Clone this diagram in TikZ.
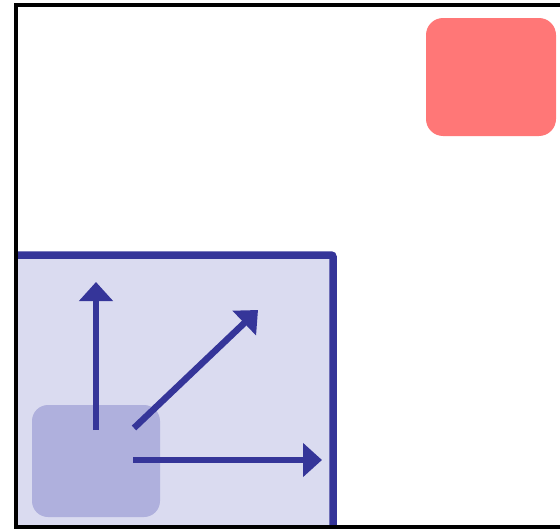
\documentclass[tikz,border=0pt]{standalone}
\usetikzlibrary{arrows.meta}
\definecolor{bluestroke}{RGB}{53,53,153}
\definecolor{bluelight}{RGB}{218,219,240}
\definecolor{bluemid}{RGB}{175,176,221}
\definecolor{redbox}{RGB}{255,119,119}
\begin{document}
\begin{tikzpicture}[x=1pt,y=-1pt,
  vec/.style={draw=bluestroke,line width=6.5pt,-{Triangle[length=19pt,width=33pt]}}
]
\useasboundingbox (0,0) rectangle (560,530);
% reachable region
\fill[bluelight] (16,255) rectangle (333,527);
\draw[bluestroke,line width=7.5pt,rounded corners=2pt] (16,255) -- (333,255) -- (333,527);
% source and goal boxes
\node[fill=bluemid,rounded corners=16pt,inner sep=0pt,minimum width=128pt,minimum height=112pt] (src) at (96,461) {};
\node[fill=redbox,rounded corners=17pt,inner sep=0pt,minimum width=130pt,minimum height=118pt] (goal) at (491,77) {};
% vectors
\coordinate (up0) at (96,430);
\coordinate (up1) at (96,282);
\coordinate (dg0) at (134,428);
\coordinate (dg1) at (258,310);
\coordinate (rt0) at (133,460);
\coordinate (rt1) at (322,460);
\draw[vec] (up0) -- (up1);
\draw[vec] (dg0) -- (dg1);
\draw[vec] (rt0) -- (rt1);
% frame
\draw[black,line width=3.5pt] (16,5) rectangle (565,527);
\end{tikzpicture}
\end{document}
